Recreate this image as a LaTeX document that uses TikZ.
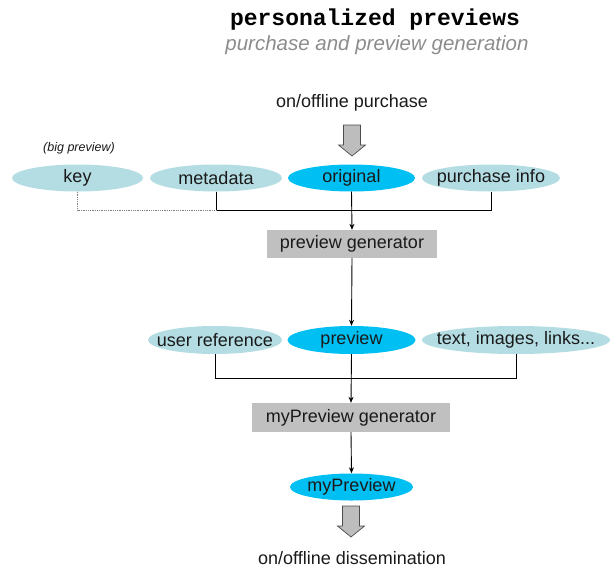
\documentclass[tikz,border=0pt]{standalone}
\usepackage{fontspec}
\setmainfont{Liberation Sans}
\newfontfamily\monob{Liberation Mono}
\usetikzlibrary{shapes.geometric,arrows.meta}
\definecolor{lightel}{HTML}{B3DCE3}
\definecolor{cyanel}{HTML}{00BFF3}
\definecolor{boxgray}{HTML}{C0C0C0}
\definecolor{txt}{HTML}{1A1A1A}
\definecolor{subgray}{HTML}{8C8C8C}
\definecolor{arrgray}{HTML}{BDBDBD}
\newcommand\zw[1]{\makebox[0pt]{#1}}
\tikzset{
  lel/.style={ellipse, fill=lightel, inner sep=0pt, minimum height=27pt, text=txt, font=\fontsize{18}{20}\selectfont},
  cel/.style={ellipse, fill=cyanel, inner sep=0pt, minimum height=27pt, text=txt, font=\fontsize{18}{20}\selectfont},
  gbox/.style={rectangle, fill=boxgray, inner sep=0pt, minimum height=28pt, text=txt, font=\fontsize{18}{20}\selectfont},
  plain/.style={text=txt, font=\fontsize{18}{20}\selectfont, inner sep=0pt},
  conn/.style={draw=black, line width=0.9pt},
  arr/.style={conn, -{Stealth[length=6pt,width=5pt]}},
  blockarr/.style={fill=arrgray, draw=black!70, line width=0.7pt}
}
\begin{document}
\begin{tikzpicture}[x=1pt,y=-1pt]
\useasboundingbox (0,0) rectangle (610,570);
% titles
\node[inner sep=0pt, font=\monob\bfseries\fontsize{23}{25}\selectfont] (title) at (375,20) {personalized previews};
\node[inner sep=0pt, text=subgray, font=\itshape\fontsize{20.5}{23}\selectfont] (subtitle) at (377,45) {purchase and preview generation};
\node[plain] (purchase) at (352,103) {on/offline purchase};
% block arrow 1
\draw[blockarr] (343.5,125) -- (360.5,125) -- (360.5,145) -- (365.5,145) -- (352,156) -- (338.5,145) -- (343.5,145) -- cycle;
% row 1
\node[inner sep=0pt, text=txt, font=\itshape\fontsize{12.5}{14}\selectfont] (big) at (79,148) {(big preview)};
\node[lel, minimum width=131pt] (key) at (77.5,178) {\zw{key}};
\node[lel, minimum width=132pt] (meta) at (216,178) {\zw{metadata}};
\node[cel, minimum width=127pt] (orig) at (351.5,178) {\zw{original}};
\node[lel, minimum width=138pt] (pinfo) at (491,178) {\zw{purchase info}};
\coordinate (bus1) at (352,210);
\node[gbox, minimum width=170pt] (pg) at (352,244) {preview generator};
\draw[conn] (meta.south) -- (meta.south |- bus1) -| (pinfo.south);
\draw[densely dotted, draw=gray, line width=0.8pt] (key.south) |- (meta.south |- bus1);
\draw[arr] (orig.south) -- (pg.north);
% row 2
\node[lel, minimum width=134pt, minimum height=28pt] (uref) at (215,340) {\zw{user reference}};
\node[cel, minimum width=128pt, minimum height=28pt] (prev) at (351.5,340) {\zw{preview}};
\node[lel, minimum width=188pt, minimum height=28pt] (tail) at (516,340) {\zw{text, images, links...}};
\draw[arr] (pg.south) -- (prev.north);
\coordinate (bus2) at (352,378);
\node[gbox, minimum width=198pt, minimum height=29pt] (mpg) at (351,417.5) {myPreview generator};
\draw[conn] (uref.south) -- (uref.south |- bus2) -| (tail.south);
\draw[arr] (prev.south) -- (mpg.north);
\node[cel, minimum width=123pt] (mp) at (351.5,487) {\zw{myPreview}};
\draw[arr] (mpg.south) -- (mp.north);
% block arrow 2
\draw[blockarr] (342.5,506) -- (359.5,506) -- (359.5,526) -- (364.5,526) -- (351,537) -- (337.5,526) -- (342.5,526) -- cycle;
\node[plain] (dissem) at (352,558) {on/offline dissemination};
\end{tikzpicture}
\end{document}
